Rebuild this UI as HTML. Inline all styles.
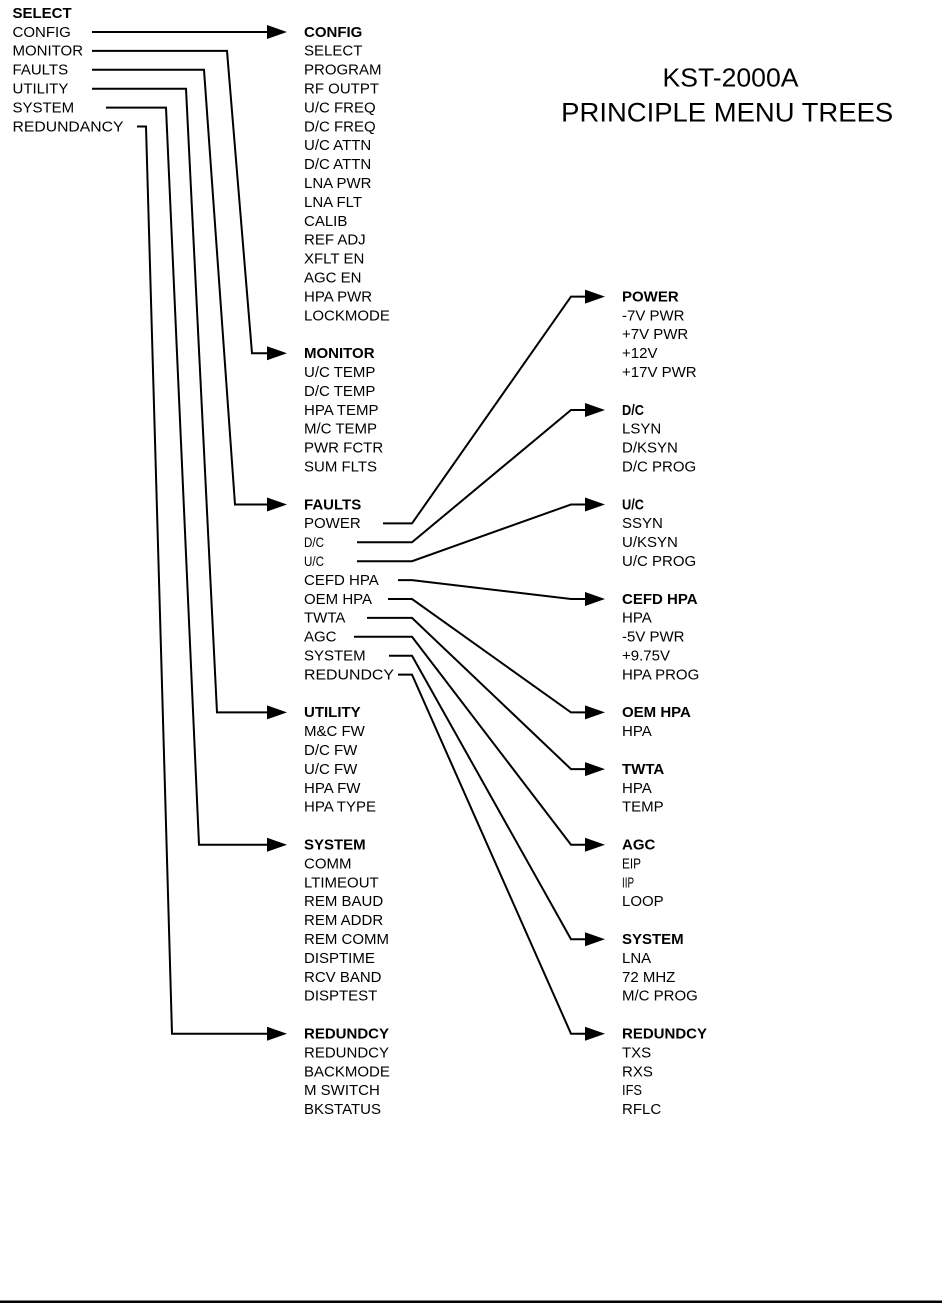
<!DOCTYPE html>
<html>
<head>
<meta charset="utf-8">
<style>
html,body{margin:0;padding:0;background:#fff;}
svg{display:block;}
text{font-family:"Liberation Sans",Arial,sans-serif;font-size:15px;fill:#000;}
.b{font-weight:bold;}
</style>
</head>
<body>
<svg width="942" height="1303" viewBox="0 0 942 1303" xmlns="http://www.w3.org/2000/svg">
<rect width="942" height="1303" fill="#fff"/>

<!-- Title -->
<text x="730.5" y="86.7" text-anchor="middle" style="font-size:26px" textLength="136" lengthAdjust="spacingAndGlyphs">KST-2000A</text>
<text x="727.2" y="121.7" text-anchor="middle" style="font-size:27px" textLength="332" lengthAdjust="spacingAndGlyphs">PRINCIPLE MENU TREES</text>

<!-- Left column -->
<g>
<text class="b" x="12.5" y="17.9">SELECT</text>
<text x="12.5" y="36.8">CONFIG</text>
<text x="12.5" y="55.7">MONITOR</text>
<text x="12.5" y="74.6">FAULTS</text>
<text x="12.5" y="93.5">UTILITY</text>
<text x="12.5" y="112.4">SYSTEM</text>
<text x="12.5" y="131.3" textLength="111" lengthAdjust="spacingAndGlyphs">REDUNDANCY</text>
</g>

<!-- Middle column -->
<g>
<text class="b" x="304" y="36.8">CONFIG</text>
<text x="304" y="55.7">SELECT</text>
<text x="304" y="74.6">PROGRAM</text>
<text x="304" y="93.5">RF OUTPT</text>
<text x="304" y="112.4">U/C FREQ</text>
<text x="304" y="131.3">D/C FREQ</text>
<text x="304" y="150.2">U/C ATTN</text>
<text x="304" y="169.1">D/C ATTN</text>
<text x="304" y="188">LNA PWR</text>
<text x="304" y="206.9">LNA FLT</text>
<text x="304" y="225.8">CALIB</text>
<text x="304" y="244.7">REF ADJ</text>
<text x="304" y="263.6">XFLT EN</text>
<text x="304" y="282.5">AGC EN</text>
<text x="304" y="301.4">HPA PWR</text>
<text x="304" y="320.3">LOCKMODE</text>

<text class="b" x="304" y="358.1">MONITOR</text>
<text x="304" y="377">U/C TEMP</text>
<text x="304" y="395.9">D/C TEMP</text>
<text x="304" y="414.8">HPA TEMP</text>
<text x="304" y="433.7">M/C TEMP</text>
<text x="304" y="452.6">PWR FCTR</text>
<text x="304" y="471.5">SUM FLTS</text>

<text class="b" x="304" y="509.3">FAULTS</text>
<text x="304" y="528.2">POWER</text>
<text x="304" y="547.1" style="font-size:14px" textLength="20" lengthAdjust="spacingAndGlyphs">D/C</text>
<text x="304" y="566" style="font-size:14px" textLength="20" lengthAdjust="spacingAndGlyphs">U/C</text>
<text x="304" y="584.9">CEFD HPA</text>
<text x="304" y="603.8">OEM HPA</text>
<text x="304" y="622.7">TWTA</text>
<text x="304" y="641.6">AGC</text>
<text x="304" y="660.5">SYSTEM</text>
<text x="304" y="679.4" textLength="90" lengthAdjust="spacingAndGlyphs">REDUNDCY</text>

<text class="b" x="304" y="717.2">UTILITY</text>
<text x="304" y="736.1">M&amp;C FW</text>
<text x="304" y="755">D/C FW</text>
<text x="304" y="773.9">U/C FW</text>
<text x="304" y="792.8">HPA FW</text>
<text x="304" y="811.7">HPA TYPE</text>

<text class="b" x="304" y="849.5">SYSTEM</text>
<text x="304" y="868.4">COMM</text>
<text x="304" y="887.3">LTIMEOUT</text>
<text x="304" y="906.2">REM BAUD</text>
<text x="304" y="925.1">REM ADDR</text>
<text x="304" y="944">REM COMM</text>
<text x="304" y="962.9">DISPTIME</text>
<text x="304" y="981.8">RCV BAND</text>
<text x="304" y="1000.7">DISPTEST</text>

<text class="b" x="304" y="1038.5">REDUNDCY</text>
<text x="304" y="1057.4">REDUNDCY</text>
<text x="304" y="1076.3">BACKMODE</text>
<text x="304" y="1095.2">M SWITCH</text>
<text x="304" y="1114.1">BKSTATUS</text>
</g>

<!-- Right column -->
<g>
<text class="b" x="622" y="301.4">POWER</text>
<text x="622" y="320.3">-7V PWR</text>
<text x="622" y="339.2">+7V PWR</text>
<text x="622" y="358.1">+12V</text>
<text x="622" y="377">+17V PWR</text>

<text class="b" x="622" y="414.8" textLength="22" lengthAdjust="spacingAndGlyphs">D/C</text>
<text x="622" y="433.7">LSYN</text>
<text x="622" y="452.6">D/KSYN</text>
<text x="622" y="471.5">D/C PROG</text>

<text class="b" x="622" y="509.3" textLength="22" lengthAdjust="spacingAndGlyphs">U/C</text>
<text x="622" y="528.2">SSYN</text>
<text x="622" y="547.1">U/KSYN</text>
<text x="622" y="566">U/C PROG</text>

<text class="b" x="622" y="603.8">CEFD HPA</text>
<text x="622" y="622.7">HPA</text>
<text x="622" y="641.6">-5V PWR</text>
<text x="622" y="660.5">+9.75V</text>
<text x="622" y="679.4">HPA PROG</text>

<text class="b" x="622" y="717.2">OEM HPA</text>
<text x="622" y="736.1">HPA</text>

<text class="b" x="622" y="773.9">TWTA</text>
<text x="622" y="792.8">HPA</text>
<text x="622" y="811.7">TEMP</text>

<text class="b" x="622" y="849.5">AGC</text>
<text x="622" y="868.4" textLength="19" lengthAdjust="spacingAndGlyphs">EIP</text>
<text x="622" y="887.3" textLength="12" lengthAdjust="spacingAndGlyphs">IIP</text>
<text x="622" y="906.2">LOOP</text>

<text class="b" x="622" y="944">SYSTEM</text>
<text x="622" y="962.9">LNA</text>
<text x="622" y="981.8">72 MHZ</text>
<text x="622" y="1000.7">M/C PROG</text>

<text class="b" x="622" y="1038.5">REDUNDCY</text>
<text x="622" y="1057.4">TXS</text>
<text x="622" y="1076.3">RXS</text>
<text x="622" y="1095.2" textLength="20" lengthAdjust="spacingAndGlyphs">IFS</text>
<text x="622" y="1114.1">RFLC</text>
</g>

<!-- Left connectors -->
<g fill="none" stroke="#000" stroke-width="2" stroke-linejoin="miter">
<path d="M92 32 H270"/>
<path d="M92 50.9 H227 L252 353.3 H270"/>
<path d="M92 69.8 H204 L235 504.5 H270"/>
<path d="M92 88.7 H186 L217 712.4 H270"/>
<path d="M106 107.6 H166 L199 844.7 H270"/>
<path d="M137 126.5 H146 L172 1033.7 H270"/>
</g>
<g fill="#000">
<polygon points="287,32 267,25 267,39"/>
<polygon points="287,353.3 267,346.3 267,360.3"/>
<polygon points="287,504.5 267,497.5 267,511.5"/>
<polygon points="287,712.4 267,705.4 267,719.4"/>
<polygon points="287,844.7 267,837.7 267,851.7"/>
<polygon points="287,1033.7 267,1026.7 267,1040.7"/>
</g>

<!-- Right connectors -->
<g fill="none" stroke="#000" stroke-width="2" stroke-linejoin="miter">
<path d="M383 523.4 H412 L571 296.6 H588"/>
<path d="M357 542.3 H412 L571 410 H588"/>
<path d="M357 561.2 H412 L571 504.5 H588"/>
<path d="M398 580.1 H412 L571 599 H588"/>
<path d="M388 599 H412 L571 712.4 H588"/>
<path d="M367 617.9 H412 L571 769.1 H588"/>
<path d="M354 636.8 H412 L571 844.7 H588"/>
<path d="M389 655.7 H412 L571 939.2 H588"/>
<path d="M398 674.6 H412 L571 1033.7 H588"/>
</g>
<g fill="#000">
<polygon points="605,296.6 585,289.6 585,303.6"/>
<polygon points="605,410 585,403 585,417"/>
<polygon points="605,504.5 585,497.5 585,511.5"/>
<polygon points="605,599 585,592 585,606"/>
<polygon points="605,712.4 585,705.4 585,719.4"/>
<polygon points="605,769.1 585,762.1 585,776.1"/>
<polygon points="605,844.7 585,837.7 585,851.7"/>
<polygon points="605,939.2 585,932.2 585,946.2"/>
<polygon points="605,1033.7 585,1026.7 585,1040.7"/>
</g>

<!-- Bottom rule -->
<rect x="0" y="1300.5" width="942" height="2.5" fill="#000"/>
</svg>
</body>
</html>
